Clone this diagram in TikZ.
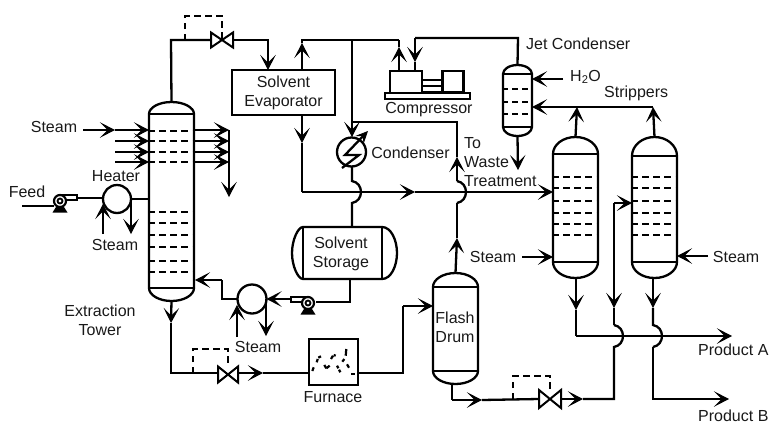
\documentclass[tikz,border=0pt]{standalone}
\usepackage{fontspec}
\setmainfont{Liberation Sans}
\usetikzlibrary{arrows.meta,calc}
\tikzset{
  ln/.style={line width=2.3pt,line join=miter},
  arr/.style={ln,-{Stealth[length=15pt,width=15.5pt,inset=7.5pt,line width=1.2pt]}},
  tray/.style={line width=2.3pt,dash pattern=on 7pt off 4.2pt,dash phase=1.2pt},
  ctrl/.style={line width=2pt,dash pattern=on 6.5pt off 4.5pt},
  lbl/.style={font=\fontsize{16}{19}\selectfont,inner sep=0pt,align=center,text=black!90},
  vbody/.style={inner sep=0pt,outer sep=0pt},
  box/.style={draw,line width=2.3pt,inner sep=0pt,outer sep=0pt,align=center,font=\fontsize{16}{19}\selectfont,text=black!90},
  round/.style={draw,circle,line width=2.3pt,inner sep=0pt,outer sep=0pt},
  flame/.style={line width=2.2pt}
}
\newcommand\vessel[7]{%
  \pgfmathsetmacro\vxc{(#2+#3)/2}\pgfmathsetmacro\vw{#3-#2}\pgfmathsetmacro\vyc{(#4+#7)/2}\pgfmathsetmacro\vh{#7-#4}%
  \pgfmathsetmacro\vka{.55*\vw/2}\pgfmathsetmacro\vkb{.55*(#5-#4)}\pgfmathsetmacro\vkc{.55*(#7-#6)}%
  \node[vbody,minimum width=\vw pt,minimum height=\vh pt] (#1) at (\vxc,\vyc) {};
  \draw[ln] (#2,#5) .. controls (#2,#5-\vkb) and (\vxc-\vka,#4) .. (\vxc,#4)
     .. controls (\vxc+\vka,#4) and (#3,#5-\vkb) .. (#3,#5) -- (#3,#6)
     .. controls (#3,#6+\vkc) and (\vxc+\vka,#7) .. (\vxc,#7)
     .. controls (\vxc-\vka,#7) and (#2,#6+\vkc) .. (#2,#6) -- cycle;
  \draw[ln] (#2,#5) -- (#3,#5) (#2,#6) -- (#3,#6);
}
\newcommand\valve[5]{%
  \node[vbody,minimum width=#4pt,minimum height=#5pt] (#1) at (#2,#3) {};
  \draw[line width=2pt,line join=miter] (#1.north west) -- (#1.south east) -- (#1.north east) -- (#1.south west) -- cycle;
}
\newcommand\pump[4]{%
  \begin{scope}[shift={(#2,#3)},xscale=#4]
    \draw[line width=2.2pt,fill=white] (0,-6) -- (17,-6) -- (17,-1) -- (6,-1);
    \draw[line width=2.2pt] (0,0) circle[radius=6];
    \draw[line width=1.8pt] (0,0) circle[radius=2.5];
    \fill (-7.5,11.5) -- (7.5,11.5) -- (4,6) -- (-4,6) -- cycle;
    \coordinate (#1-out) at (17,-3.5);
    \coordinate (#1-in) at (-6,5);
  \end{scope}
}
\begin{document}
\begin{tikzpicture}[x=1pt,y=-1pt]
\useasboundingbox (0,0) rectangle (769,424);
% ---------- vessels
\vessel{tower}{149}{194}{102}{114}{288}{301}
\foreach \y in {131,141,152,162,212,223,235,247,261,272}
  \draw[tray] (tower.west |- 0,\y) -- (tower.east |- 0,\y);
\vessel{jet}{503}{532}{65}{74}{127}{136}
\foreach \y in {89,102,114}
  \draw[line width=2.3pt,dash pattern=on 6pt off 4pt,dash phase=1pt] (jet.west |- 0,\y) -- (jet.east |- 0,\y);
\vessel{stripA}{553}{598}{137}{154}{262}{278}
\foreach \y in {177,188,201,213,224,235}
  \draw[tray] (stripA.west |- 0,\y) -- (stripA.east |- 0,\y);
\vessel{stripB}{632}{677}{137}{156}{262}{278}
\foreach \y in {177,188,201,213,224,235}
  \draw[tray] (stripB.west |- 0,\y) -- (stripB.east |- 0,\y);
\vessel{flash}{433}{478}{273}{287}{371}{384}
\node[lbl] (flashlbl) at (455,327.5) {Flash\\Drum};
% storage (horizontal)
\node[vbody,minimum width=105pt,minimum height=52pt] (storage) at (344.5,253) {};
\draw[ln] (303,227) -- (382,227) .. controls (391,227) and (397,240) .. (397,253)
   .. controls (397,266) and (391,279) .. (382,279) -- (303,279)
   .. controls (298,279) and (292,266) .. (292,253) .. controls (292,240) and (298,227) .. (303,227) -- cycle;
\draw[ln] (303,227) -- (303,279) (382,227) -- (382,279);
\node[lbl] (storagelbl) at (341,253.5) {Solvent\\Storage};
% boxes
\node[box,minimum width=103pt,minimum height=45pt] (evap) at (283.5,92.5) {Solvent\\Evaporator};
\node[box,minimum width=49pt,minimum height=46pt] (furnace) at (333.5,362) {};
\foreach \a/\b/\c/\d in {312.3/371/313.7/367.3, 316.7/362.3/317.7/359, 318.3/357.7/321/356.3,
   324.3/365/326.3/368.3, 326.3/368.3/329.7/365.7, 331/359/333/355.7, 333.7/355/335.7/355.7,
   337/365.7/338.3/368.3, 339/369.7/340.3/372.3, 342.3/361.7/344.3/359, 345.7/355.7/346.3/349,
   347/364.3/349/367.7, 351/373.7/355/373.7}
  \draw[flame] (\a,\b) -- (\c,\d);
% compressor
\node[box,minimum width=32pt,minimum height=22pt] (compA) at (406,82) {};
\node[box,minimum width=21pt,minimum height=21pt] (compB) at (453,81.5) {};
\node[box,minimum width=85pt,minimum height=6pt] (compbase) at (427.5,96) {};
\draw[ln] (compA.east |- 0,80) -- (compB.west |- 0,80);
\draw[ln] (compA.east |- 0,86) -- (compB.west |- 0,86);
\draw[ln] (compA.east |- 0,92) -- (compB.west |- 0,92);
% exchangers
\node[round,minimum size=28pt] (heater) at (117,199) {};
\node[round,minimum size=29pt] (reboiler) at (252,299) {};
\node[round,minimum size=29pt] (cond) at (351.5,152) {};
\coordinate (bolta) at (342,168); \coordinate (boltb) at (359,155);
\coordinate (boltc) at (345,155); \coordinate (boltd) at (368,131);
\draw[ln,-{Stealth[length=13pt,width=12pt,inset=6pt,line width=0.9pt]}] (bolta) -- (boltb) -- (boltc) -- (boltd);
% valves and pumps
\valve{vA}{222}{40}{22}{15}
\valve{vB}{228}{374.5}{20}{16}
\valve{vC}{550}{399}{22}{18}
\pump{pumpA}{60}{201}{1}
\pump{pumpB}{308}{303}{-1}
% ---------- coordinates
\coordinate (feedin) at (22,206);
\coordinate (st1) at (83,130); \coordinate (st1m) at (115,130);
\coordinate (st2) at (115,141); \coordinate (st3) at (115,152); \coordinate (st4) at (115,162);
\coordinate (tl1) at (149,130); \coordinate (tl2) at (149,141); \coordinate (tl3) at (149,152); \coordinate (tl4) at (149,162);
\coordinate (tr1) at (194,130); \coordinate (tr2) at (194,141); \coordinate (tr3) at (194,152); \coordinate (tr4) at (194,162);
\coordinate (sd1) at (229,130); \coordinate (sd2) at (229,141); \coordinate (sd3) at (229,152); \coordinate (sd4) at (229,162);
\coordinate (sdend) at (229,197);
\coordinate (hs) at (103,234); \coordinate (hst) at (103,204);
\coordinate (hd) at (131,199); \coordinate (hde) at (131,234);
\coordinate (tw) at (149,199);
\coordinate (topc) at (171,40); \coordinate (ctrlA) at (185,40); \coordinate (ctrlAu) at (185,16); \coordinate (ctrlAv) at (222,16);
\coordinate (evin) at (268,40); \coordinate (evinb) at (268,70);
\coordinate (evt) at (302,70); \coordinate (evtm) at (302,43); \coordinate (evtc) at (302,40);
\coordinate (cpu) at (399,71); \coordinate (cpum) at (399,47); \coordinate (cpuc) at (399,40);
\coordinate (condtop) at (352,40); \coordinate (condj) at (352,122); \coordinate (condm) at (352,137);
\coordinate (condb) at (352,166); \coordinate (j1a) at (352,181); \coordinate (j1b) at (352,203); \coordinate (storetop) at (352,227);
\coordinate (wtc) at (457,122); \coordinate (wtm) at (457,157); \coordinate (j2a) at (457,181); \coordinate (j2b) at (457,203);
\coordinate (fm) at (457,238);
\coordinate (evb) at (302,115); \coordinate (evbm) at (302,143); \coordinate (evbc) at (302,192);
\coordinate (evbn) at (415,192); \coordinate (sAin) at (553,192);
\coordinate (cpd) at (415,71); \coordinate (cpdm) at (415,62); \coordinate (cpdc) at (415,38); \coordinate (jetc) at (518,38);
\coordinate (jete) at (518,170);
\coordinate (h2o) at (563,79); \coordinate (h2oe) at (532,79);
\coordinate (strc) at (653,107); \coordinate (strm) at (577,107); \coordinate (jetw) at (532,107);
\coordinate (sAs) at (522,257); \coordinate (sAse) at (553,257);
\coordinate (sBs) at (708,256); \coordinate (sBse) at (677,256);
\coordinate (sAd) at (576,310); \coordinate (sAc) at (576,336); \coordinate (pA) at (732,336);
\coordinate (sBd) at (653,308); \coordinate (j4a) at (653,325); \coordinate (j4b) at (653,347); \coordinate (sBc) at (653,399); \coordinate (pB) at (729,399);
\coordinate (fbc) at (452,384); \coordinate (fbd) at (452,400); \coordinate (fbm) at (482,400);
\coordinate (v3m) at (583,399); \coordinate (fc) at (614,399); \coordinate (j3b) at (614,347); \coordinate (j3a) at (614,325);
\coordinate (fd) at (614,308); \coordinate (ft) at (614,203); \coordinate (sBin) at (632,203);
\coordinate (ctrlC) at (513,399); \coordinate (ctrlCu) at (513,376); \coordinate (ctrlCv) at (550,376);
\coordinate (ctrlB) at (193,373); \coordinate (ctrlBu) at (193,349); \coordinate (ctrlBv) at (228,349);
\coordinate (tbm) at (171,323); \coordinate (tbc) at (171,373);
\coordinate (vbm) at (263,373); \coordinate (fin) at (309,373); \coordinate (fout) at (358,373);
\coordinate (fc1) at (403,373); \coordinate (fc2) at (403,306); \coordinate (flin) at (433,306);
\coordinate (rs) at (237,337); \coordinate (rst) at (237,305); \coordinate (rd) at (266,299); \coordinate (rde) at (266,336);
\coordinate (rl) at (222,299); \coordinate (rlu) at (222,280); \coordinate (trb) at (195,280);
\coordinate (stb) at (350,279); \coordinate (stc) at (350,302); \coordinate (pbin) at (316,302);
% ---------- connectors
\draw[ln] (feedin) -- (pumpA-in |- feedin);
\draw[ln] (pumpA-out |- 0,198) -- (heater.west |- 0,198);
\draw[ln] (hd) -- (tw);
\draw[arr] (hs) -- (hst);
\draw[arr] (hd) -- (hde);
\draw[arr] (st1) -- (st1m);
\draw[arr] (st1m) -- (tl1);
\draw[arr] (st2) -- (tl2);
\draw[arr] (st3) -- (tl3);
\draw[arr] (st4) -- (tl4);
\draw[arr] (tr1) -- (sd1);
\draw[arr] (tr2) -- (sd2);
\draw[arr] (tr3) -- (sd3);
\draw[arr] (tr4) -- (sd4);
\draw[arr] (sd1) -- (sdend);
\draw[ln] (tower.north) -- (topc) -- (vA.west);
\draw[ctrl] (ctrlA) -- (ctrlAu) -- (ctrlAv) -- (vA.center);
\draw[arr] (vA.east) -- (evin) -- (evinb);
\draw[arr] (evt) -- (evtm);
\draw[ln] (evtm) -- (evtc) -- (cpuc);
\draw[arr] (cpu) -- (cpum);
\draw[ln] (cpum) -- (cpuc);
\draw[arr] (condtop) -- (condm);
\draw[ln] (condj) -- (wtc) -- (wtm);
\draw[arr] (j2a) -- (wtm);
\draw[ln] (condb) -- (j1a) .. controls +(12,2) and +(12,-2) .. (j1b) -- (storetop);
\draw[ln] (j2b) .. controls +(12,-2) and +(12,2) .. (j2a);
\draw[arr] (flash.north) -- (fm);
\draw[ln] (fm) -- (j2b);
\draw[arr] (evb) -- (evbm);
\draw[ln] (evbm) -- (evbc);
\draw[arr] (evbc) -- (evbn);
\draw[arr] (evbn) -- (sAin);
\draw[arr] (cpdc) -- (cpdm);
\draw[ln] (cpdm) -- (cpd);
\draw[ln] (cpdc) -- (jetc) -- (jet.north);
\draw[arr] (jet.south) -- (jete);
\draw[arr] (h2o) -- (h2oe);
\draw[arr] (stripA.north) -- (strm);
\draw[arr] (stripB.north) -- (strc);
\draw[arr] (strc) -- (jetw);
\draw[arr] (sAs) -- (sAse);
\draw[arr] (sBs) -- (sBse);
\draw[arr] (stripA.south -| sAd) -- (sAd);
\draw[ln] (sAd) -- (sAc);
\draw[arr] (sAc) -- (pA);
\draw[arr] (stripB.south -| sBd) -- (sBd);
\draw[ln] (sBd) -- (j4a) .. controls +(12,2) and +(12,-2) .. (j4b);
\draw[arr] (j4b) -- (sBc) -- (pB);
\draw[ln] (flash.south -| fbc) -- (fbd);
\draw[arr] (fbd) -- (fbm);
\draw[ln] (fbm) -- (vC.west);
\draw[arr] (vC.east) -- (v3m);
\draw[ln] (v3m) -- (fc) -- (j3b) .. controls +(12,-2) and +(12,2) .. (j3a);
\draw[ln] (j3a) -- (fd);
\draw[arr] (ft) -- (fd);
\draw[arr] (ft) -- (sBin);
\draw[ctrl] (ctrlC) -- (ctrlCu) -- (ctrlCv) -- (vC.north);
\draw[arr] (tower.south) -- (tbm);
\draw[ln] (tbm) -- (tbc) -- (vB.west |- tbc);
\draw[ctrl] (ctrlB) -- (ctrlBu) -- (ctrlBv) -- (vB.north);
\draw[arr] (vB.east |- vbm) -- (vbm);
\draw[ln] (vbm) -- (fin);
\draw[ln] (fout) -- (fc1) -- (fc2);
\draw[arr] (fc2) -- (flin);
\draw[arr] (rs) -- (rst);
\draw[arr] (rd) -- (rde);
\draw[ln] (reboiler.west) -- (rl) -- (rlu);
\draw[arr] (rlu) -- (trb);
\draw[ln] (stb) -- (stc) -- (pbin);
\draw[arr] (pumpB-out |- 0,299) -- (reboiler.east |- 0,299);
% ---------- labels
\node[lbl] (lfeed) at (27,192) {Feed};
\node[lbl] (lst1) at (54,127) {Steam};
\node[lbl] (lheat) at (116,176) {Heater};
\node[lbl] (lst2) at (115,245) {Steam};
\node[lbl] (lext) at (100,320.5) {Extraction\\Tower};
\node[lbl] (lst3) at (258,347) {Steam};
\node[lbl] (lfurn) at (333,397) {Furnace};
\node[lbl] (lcomp) at (429,110) {Compressor};
\node[lbl] (lcond) at (410.5,152.5) {Condenser};
\node[lbl,anchor=west,align=left] (lwaste) at (464,162) {To\\Waste\\Treatment};
\node[lbl,anchor=west] (ljet) at (526,44) {Jet Condenser};
\node[lbl,anchor=west] (lh2o) at (570,77) {H\textsubscript{2}O};
\node[lbl,anchor=west] (lstr) at (604,93) {Strippers};
\node[lbl] (lst4) at (493,257) {Steam};
\node[lbl] (lst5) at (736,257) {Steam};
\node[lbl,anchor=west] (lpa) at (698,350) {Product A};
\node[lbl,anchor=west] (lpb) at (698,416) {Product B};
\end{tikzpicture}
\end{document}
